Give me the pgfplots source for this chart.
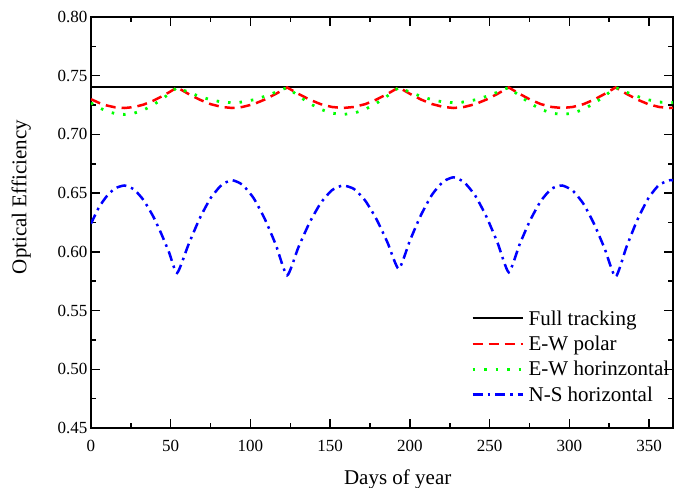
\documentclass[border=0pt]{standalone}
\usepackage{pgfplots}
\pgfplotsset{compat=1.18}
\usepackage{pgfplotstable}
\usepackage{fontspec}
\setmainfont{Liberation Serif}

\pgfplotstableread{
day blue red green
0 0.6240 0.7300 0.7268
5 0.6380 0.7269 0.7228
10 0.6476 0.7246 0.7197
15 0.6540 0.7231 0.7178
21 0.6565 0.7225 0.7170
27 0.6531 0.7233 0.7181
33 0.6440 0.7254 0.7208
39 0.6302 0.7287 0.7251
44 0.6157 0.7321 0.7296
49 0.5994 0.7359 0.7346
54 0.5820 0.7400 0.7400
61 0.6057 0.7346 0.7360
68 0.6280 0.7297 0.7324
75 0.6457 0.7258 0.7295
82 0.6571 0.7234 0.7276
88.5 0.6610 0.7225 0.7270
95 0.6571 0.7234 0.7276
102 0.6457 0.7258 0.7295
109 0.6280 0.7297 0.7324
116 0.6057 0.7346 0.7360
123 0.5800 0.7400 0.7400
130 0.6036 0.7346 0.7329
137 0.6247 0.7297 0.7265
144 0.6414 0.7258 0.7214
151 0.6524 0.7234 0.7181
158 0.6565 0.7225 0.7170
165 0.6535 0.7234 0.7181
172 0.6436 0.7258 0.7214
179 0.6279 0.7297 0.7265
186 0.6078 0.7346 0.7329
193 0.5855 0.7400 0.7400
200 0.6096 0.7346 0.7360
207 0.6315 0.7297 0.7324
214 0.6489 0.7258 0.7295
221 0.6599 0.7234 0.7276
227.5 0.6635 0.7225 0.7270
234 0.6593 0.7234 0.7276
241 0.6478 0.7258 0.7295
248 0.6299 0.7297 0.7324
255 0.6076 0.7346 0.7360
262 0.5826 0.7400 0.7400
268.7 0.6060 0.7346 0.7329
275.4 0.6268 0.7297 0.7265
282.1 0.6433 0.7258 0.7214
288.8 0.6537 0.7234 0.7181
295.5 0.6565 0.7225 0.7170
302.2 0.6520 0.7234 0.7181
308.9 0.6408 0.7258 0.7214
315.6 0.6235 0.7297 0.7265
322.3 0.6022 0.7346 0.7329
329 0.5787 0.7400 0.7400
335.8 0.6041 0.7346 0.7360
342.6 0.6271 0.7297 0.7324
349.4 0.6453 0.7258 0.7295
356.2 0.6570 0.7234 0.7276
363 0.6610 0.7225 0.7270
365 0.6607 0.7226 0.7271
}\effdata

\begin{document}
\begin{tikzpicture}
\begin{axis}[name=ax,
  scale only axis, width=582bp, height=411bp,
  xmin=0, xmax=365, ymin=0.45, ymax=0.80,
  xtick={0,50,100,150,200,250,300,350},
  ytick={0.45,0.5,0.55,0.6,0.65,0.7,0.75,0.8},
  minor x tick num=1, minor y tick num=1,
  tick align=inside, xtick pos=both, ytick pos=both,
  major tick length=9bp, minor tick length=5bp,
  every tick/.style={black, line width=1.5bp},
  axis line style={line width=2bp},
  /pgf/number format/assume math mode=true,
  tick label style={font=\fontsize{17bp}{19bp}\selectfont},
  yticklabel style={/pgf/number format/.cd, fixed, fixed zerofill, precision=2},
  xticklabel style={yshift=-9bp},
  xlabel={Days of year}, ylabel={Optical Efficiency},
  label style={font=\fontsize{21bp}{24bp}\selectfont},
  xlabel style={at={(axis description cs:0.527,-0.124)}, anchor=center},
  ylabel style={at={(axis description cs:-0.120,0.562)}, anchor=center},
  legend style={at={(axis description cs:0.648,0.295)}, anchor=north west,
    draw=none, fill=none, font=\fontsize{21bp}{24bp}\selectfont,
    row sep=6.3bp, nodes={inner sep=1.5bp}},
  legend cell align=left,
  legend image code/.code={\draw[#1] (0bp,0bp) -- (50bp,0bp); \path (53bp,0bp);},
]
\addplot[black, line width=2bp] coordinates {(0,0.74) (365,0.74)};
\addlegendentry{Full tracking}
\addplot[red, line width=2.5bp, dash pattern=on 10bp off 6bp] table[x=day, y=red] {\effdata};
\addlegendentry{E-W polar}
\addplot[green, line width=2.8bp, dash pattern=on 2.5bp off 9bp] table[x=day, y=green] {\effdata};
\addlegendentry{E-W horinzontal}
\addplot[blue, line width=2.5bp, dash pattern=on 10bp off 5bp on 2.5bp off 5bp, smooth, tension=0.35] table[x=day, y=blue] {\effdata};
\addlegendentry{N-S horizontal}
\end{axis}
\pgfresetboundingbox
\path ([xshift=-91bp,yshift=-60bp]ax.south west) rectangle ([xshift=1bp,yshift=17bp]ax.north east);
\end{tikzpicture}
\end{document}
